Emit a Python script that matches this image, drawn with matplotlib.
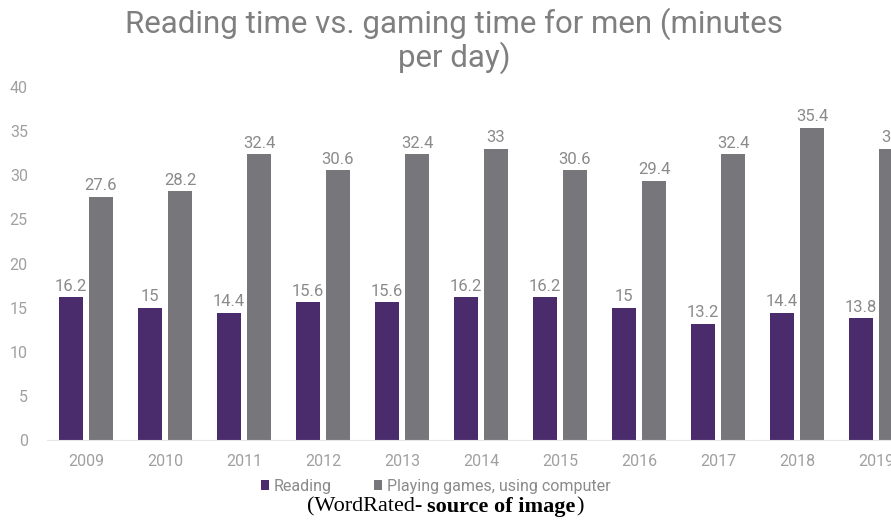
import numpy as np
import matplotlib
matplotlib.use("Agg")
import matplotlib.pyplot as plt

years = ["2009", "2010", "2011", "2012", "2013", "2014", "2015", "2016", "2017", "2018", "2019"]
reading = [16.2, 15, 14.4, 15.6, 15.6, 16.2, 16.2, 15, 13.2, 14.4, 13.8]
gaming = [27.6, 28.2, 32.4, 30.6, 32.4, 33, 30.6, 29.4, 32.4, 35.4, 33]
series_names = ["Reading", "Playing games, using computer"]

purple = "#4a2c6c"
grey = "#77767a"
txt = "#8a8a8a"

plt.rcParams['font.family'] = ['Roboto', 'DejaVu Sans']

fig = plt.figure(figsize=(8.91, 5.25), dpi=100)
ax = fig.add_axes([0.053, 0.162, 0.947, 0.672])

x = np.arange(len(years))
w = 0.30
off = 0.19
b1 = ax.bar(x - off, reading, w, color=purple, label=series_names[0])
b2 = ax.bar(x + off, gaming, w, color=grey, label=series_names[1])

def fmt(v):
    return f"{v:g}"

for rect, v in zip(b1, reading):
    ax.text(rect.get_x() + rect.get_width() / 2, v + 0.4, fmt(v), ha='center', va='bottom',
            fontsize=12, color=txt)
for rect, v in zip(b2, gaming):
    ax.text(rect.get_x() + rect.get_width() / 2, v + 0.4, fmt(v), ha='center', va='bottom',
            fontsize=12, color=txt)

ax.set_xlim(-0.49, 10.19)
ax.set_ylim(0, 40)
ax.set_yticks(range(0, 41, 5))
ax.set_xticks(x)
ax.set_xticklabels(years)
ax.tick_params(axis='both', length=0, labelsize=11.5, labelcolor="#a0a0a0")
ax.tick_params(axis='x', pad=10)
ax.tick_params(axis='y', pad=14)
for s in ['top', 'right', 'left']:
    ax.spines[s].set_visible(False)
ax.spines['bottom'].set_color("#e6e6e6")

# title in two lines, as in the source
fig.text(0.51, 0.937, "Reading time vs. gaming time for men (minutes", ha='center', va='baseline',
         fontsize=22.5, color="#7f7f7f")
fig.text(0.51, 0.873, "per day)", ha='center', va='baseline', fontsize=22.5, color="#7f7f7f")

fig.legend(loc='center', bbox_to_anchor=(0.489, 0.074), ncol=2, frameon=False, fontsize=11.5,
           handlelength=0.55, handleheight=0.55, handletextpad=0.3, columnspacing=2.6,
           labelcolor="#8a8a8a")

# caption with bold part
base_y = 0.025
t1 = fig.text(0.344, base_y, "(WordRated- ", fontsize=16, family='Liberation Serif', color='black',
              va='baseline')
fig.canvas.draw()
inv = fig.transFigure.inverted()
x1 = inv.transform((t1.get_window_extent().x1, 0))[0]
t2 = fig.text(x1, base_y, "source of image", fontsize=16, family='Liberation Serif',
              fontweight='bold', color='black', va='baseline')
fig.canvas.draw()
x2 = inv.transform((t2.get_window_extent().x1, 0))[0]
fig.text(x2, base_y, ")", fontsize=16, family='Liberation Serif', color='black', va='baseline')

fig.savefig("out.png", dpi=100)
